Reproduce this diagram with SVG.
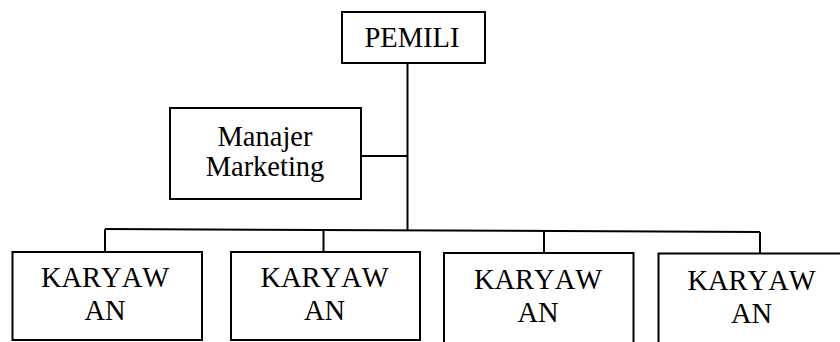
<svg xmlns="http://www.w3.org/2000/svg" width="840" height="342" viewBox="0 0 840 342">
<style>
.box{fill:#fff;stroke:#000;stroke-width:2}
.ln{fill:none;stroke:#000;stroke-width:2}
.t{font-family:'Liberation Serif','Times New Roman',serif;font-size:28.5px;font-kerning:none;fill:#000;text-anchor:middle}
</style>
<rect width="840" height="342" fill="#fff"/>
<g id="connectors">
<line class="ln" x1="407.5" y1="63" x2="407.5" y2="230"/>
<line class="ln" x1="361" y1="156" x2="407.5" y2="156"/>
<polyline class="ln" points="105,229 760,232"/>
<line class="ln" x1="105" y1="229" x2="105" y2="252"/>
<line class="ln" x1="323.5" y1="230" x2="323.5" y2="252"/>
<line class="ln" x1="544" y1="231" x2="544" y2="253"/>
<line class="ln" x1="760" y1="232" x2="760" y2="253"/>
</g>
<g id="pemili">
<rect class="box" x="342" y="12" width="143" height="51"/>
<text class="t" x="412" y="47">PEMILI</text>
</g>
<g id="manajer">
<rect class="box" x="170" y="108" width="191" height="91"/>
<text class="t" x="265" y="146">Manajer</text>
<text class="t" x="265" y="176">Marketing</text>
</g>
<g id="karyawan1">
<rect class="box" x="12.5" y="252" width="189.5" height="88"/>
<text class="t" x="105" y="287">KARYAW</text>
<text class="t" x="105" y="320">AN</text>
</g>
<g id="karyawan2">
<rect class="box" x="231" y="252" width="189" height="88"/>
<text class="t" x="324.5" y="287">KARYAW</text>
<text class="t" x="324.5" y="320">AN</text>
</g>
<g id="karyawan3">
<rect class="box" x="444" y="253" width="189.5" height="100"/>
<text class="t" x="538" y="289">KARYAW</text>
<text class="t" x="538" y="322">AN</text>
</g>
<g id="karyawan4">
<rect class="box" x="658.5" y="253.5" width="190" height="100"/>
<text class="t" x="751.5" y="290">KARYAW</text>
<text class="t" x="751.5" y="323">AN</text>
</g>
</svg>
